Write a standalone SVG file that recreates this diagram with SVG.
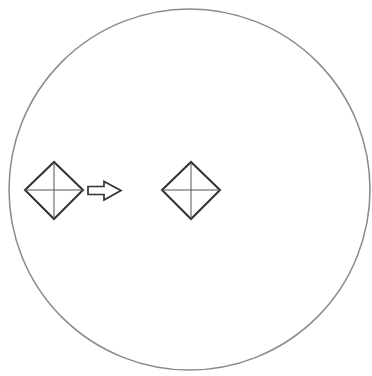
<svg xmlns="http://www.w3.org/2000/svg" width="372" height="376" viewBox="0 0 372 376">
<style>
.ring{fill:none;stroke:#8a8a8a;stroke-width:1.5}
.dia{fill:none;stroke:#333;stroke-width:2;stroke-linejoin:miter}
.cross{fill:none;stroke:#555;stroke-width:1}
.arr{fill:none;stroke:#333;stroke-width:1.7;stroke-linejoin:miter}
</style>
<rect width="372" height="376" fill="#fff"/>
<circle class="ring" cx="189.5" cy="189.5" r="180.5"/>
<g id="node1">
<path class="dia" d="M25 190 L54 162 L83 190 L54 219 Z"/>
<path class="cross" d="M25 190 H83 M54 162 V219"/>
</g>
<g id="node2">
<path class="dia" d="M162 190 L191 162 L220 190 L191 219 Z"/>
<path class="cross" d="M162 190 H220 M191 162 V219"/>
</g>
<g id="connectors">
<path class="arr" d="M88 186.5 H104 V181.5 L121 190.5 L104 200 V194.5 H88 Z"/>
</g>
</svg>
